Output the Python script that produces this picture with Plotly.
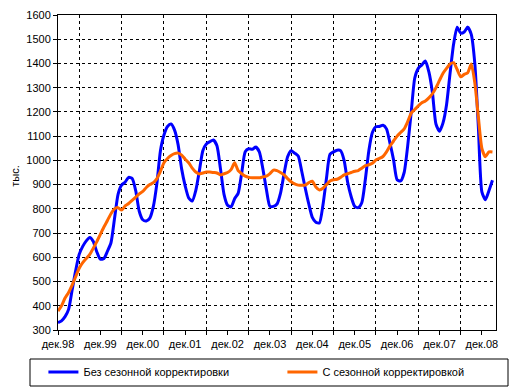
import plotly.graph_objects as go

# Monthly data, Dec 1998 (index 0) to Mar 2009
months_index = list(range(124))

without_seasonal = [
    330, 338, 355, 385, 465, 545, 612, 645, 668, 682, 665, 622,
    592, 595, 625, 660, 760, 860, 898, 910, 930, 925, 875, 790,
    755, 750, 762, 810, 905, 1040, 1105, 1140, 1150, 1125, 1065, 965,
    895, 845, 832, 875, 955, 1040, 1068, 1077, 1084, 1060, 965, 860,
    815, 808, 842, 864, 947, 1036, 1048, 1046, 1055, 1035, 965, 880,
    810, 810, 820, 865, 945, 1015, 1040, 1030, 1018, 955, 885, 820,
    765, 745, 742, 815, 925, 1025, 1035, 1042, 1040, 1000, 910, 850,
    810, 805, 825, 920, 1040, 1115, 1139, 1140, 1145, 1130, 1070, 1002,
    920, 915, 950, 1060, 1200, 1340, 1380, 1394, 1410, 1365, 1280, 1150,
    1120, 1155, 1230, 1360, 1480, 1550, 1525, 1530, 1550, 1520, 1400, 1140,
    870, 838, 875, 918,
]

with_seasonal = [
    378, 400, 432, 455, 485, 520, 555, 578, 595, 612, 638, 665,
    695, 725, 752, 780, 800, 805, 795, 812, 822, 835, 848, 862,
    872, 888, 900, 908, 925, 955, 990, 1008, 1020, 1028, 1030, 1022,
    1005, 990, 968, 952, 944, 948, 952, 952, 950, 948, 940, 945,
    950, 962, 990, 958, 945, 935, 930, 928, 928, 928, 932, 935,
    945, 960, 958, 950, 940, 925, 912, 903, 898, 897, 898, 908,
    914, 890, 878, 885, 900, 915, 920, 922, 930, 940, 945, 950,
    955, 958, 968, 978, 982, 988, 1002, 1008, 1016, 1035, 1060, 1080,
    1100, 1115, 1130, 1160, 1195, 1210, 1225, 1238, 1245, 1258, 1275, 1300,
    1330, 1360, 1380, 1398, 1403, 1375, 1345, 1355, 1362, 1398, 1320, 1180,
    1050, 1015, 1035, 1035,
]

tick_positions = [0, 12, 24, 36, 48, 60, 72, 84, 96, 108, 120]
tick_labels = ["дек.98", "дек.99", "дек.00", "дек.01", "дек.02", "дек.03",
               "дек.04", "дек.05", "дек.06", "дек.07", "дек.08"]

series_names = ["Без сезонной корректировки", "С сезонной корректировкой"]
series_colors = ["#0000FF", "#FF6600"]

FONT = "Liberation Sans, Arial, sans-serif"

fig = go.Figure()
for name, vals, col in zip(series_names, [without_seasonal, with_seasonal], series_colors):
    fig.add_trace(go.Scatter(
        x=months_index, y=vals, name=name, mode="lines",
        line=dict(color=col, width=3, shape="spline", smoothing=0.6),
    ))

# page body has an 8px default margin, so the figure is 8px smaller on each side
fig.update_layout(
    width=512, height=383,
    margin=dict(l=50, r=24, t=7, b=61, autoexpand=False),
    paper_bgcolor="white", plot_bgcolor="white",
    font=dict(family=FONT, size=11, color="black"),
    showlegend=True,
    legend=dict(
        orientation="h", x=-0.0333, xanchor="left", y=-0.133, yanchor="middle",
        entrywidth=194, entrywidthmode="pixels",
        font=dict(family=FONT, size=11, color="black"),
        bgcolor="rgba(0,0,0,0)", borderwidth=0,
    ),
    xaxis=dict(
        range=[0, 124], tickmode="array", tickvals=tick_positions, ticktext=tick_labels,
        showgrid=False, zeroline=False,
        showline=True, linecolor="black", linewidth=1, mirror=True,
        ticks="outside", ticklen=4, tickcolor="black",
        minor=dict(tick0=6, dtick=12, showgrid=True, gridcolor="black", gridwidth=1,
                   griddash="3px,3px", ticks="outside", ticklen=4, tickcolor="black"),
        tickfont=dict(family=FONT, size=11),
    ),
    yaxis=dict(
        range=[300, 1600], dtick=100, tick0=300,
        showgrid=True, gridcolor="black", gridwidth=1, griddash="3px,3px",
        zeroline=False,
        showline=True, linecolor="black", linewidth=1, mirror=True,
        ticks="outside", ticklen=4, tickcolor="black",
        tickfont=dict(family=FONT, size=11),
    ),
    shapes=[dict(type="rect", xref="paper", yref="paper",
                 x0=-0.0639, x1=1.0274, y0=-0.0921, y1=-0.1778,
                 line=dict(color="black", width=1), fillcolor="rgba(0,0,0,0)")],
    annotations=[dict(text="тыс.", xref="paper", yref="paper", x=-0.098, y=0.49,
                      xanchor="center", yanchor="middle", textangle=-90, showarrow=False,
                      font=dict(family=FONT, size=11))],
)

fig.write_html("out.html")
